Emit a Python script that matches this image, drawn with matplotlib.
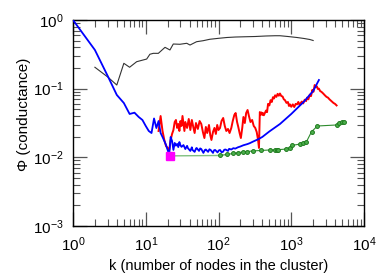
import matplotlib
matplotlib.use("Agg")
import matplotlib.pyplot as plt
from matplotlib.ticker import LogLocator, NullFormatter

plt.rcParams['font.family'] = ['Liberation Sans', 'DejaVu Sans']

# ---- data ----
black_k = [2, 3, 4, 5, 6, 7.5, 10.3, 11.4, 12.7, 14.9, 18.4, 21.5, 23.9, 29.5, 36.6,
           40.6, 50, 61.6, 76, 100, 130, 170, 230, 320, 450, 600, 700, 900, 1200,
           1500, 1800, 2000]
black_phi = [0.205, 0.148, 0.113, 0.234, 0.205, 0.247, 0.270, 0.317, 0.327, 0.327,
             0.400, 0.366, 0.447, 0.443, 0.458, 0.432, 0.483, 0.4995, 0.524, 0.541,
             0.556, 0.565, 0.570, 0.575, 0.585, 0.590, 0.590, 0.575, 0.556, 0.538,
             0.520, 0.503]

red_k = [15, 16, 17, 18, 19, 20, 21, 22, 23, 24, 25, 26, 27, 28, 29, 30, 31, 32, 33,
         34, 35, 37, 39, 41, 43, 45, 47, 49, 52, 55, 58, 61, 64, 67, 70, 74, 77, 80,
         84, 88, 92, 96, 100, 105, 110, 116, 122, 128, 135, 142, 150, 157, 165, 172,
         180, 187, 195, 203, 212, 220, 230, 240, 251, 262, 275, 290, 305, 320, 335,
         350, 360, 370, 380, 390, 400, 410, 420, 435, 450, 465, 480, 500, 520, 540,
         560, 580, 600, 625, 650, 675, 700, 730, 760, 790, 820, 860, 900, 930, 960,
         1000, 1050, 1100, 1150, 1200, 1250, 1300, 1350, 1400, 1460, 1530, 1600, 1650,
         1720, 1800, 1870, 1950, 2020, 2100, 2170, 2250, 2320, 2400, 2500, 2600, 2750,
         2900, 3050, 3200, 3350, 3500, 3650, 3800, 4000, 4200]
red_phi = [0.0242, 0.0400, 0.0242, 0.0179, 0.0146, 0.0137, 0.0128, 0.0179, 0.0219,
           0.0250, 0.0327, 0.0350, 0.0268, 0.0306, 0.0242, 0.0338, 0.0286, 0.0400,
           0.0306, 0.0242, 0.0327, 0.0268, 0.0362, 0.0250, 0.0350, 0.0277, 0.0226,
           0.0316, 0.0259, 0.0338, 0.0306, 0.0234, 0.0191, 0.0277, 0.0226, 0.0296,
           0.0211, 0.0179, 0.0234, 0.0268, 0.0219, 0.0296, 0.0250, 0.0268, 0.0338,
           0.0374, 0.0286, 0.0242, 0.0259, 0.0226, 0.0268, 0.0338, 0.0414, 0.0442,
           0.0327, 0.0277, 0.0226, 0.0191, 0.0268, 0.0387, 0.0316, 0.0442, 0.0489,
           0.0400, 0.0327, 0.0350, 0.0286, 0.0268, 0.0234, 0.0179, 0.0137,
           0.0457, 0.0420, 0.0450, 0.0415, 0.0440, 0.0410, 0.0445, 0.0480, 0.0455,
           0.0600, 0.0570, 0.0680, 0.0640, 0.0750, 0.0720, 0.0800, 0.0760, 0.0840,
           0.0790, 0.0850, 0.0780, 0.0770, 0.0700, 0.0680, 0.0620, 0.0640, 0.0560,
           0.0590, 0.0545, 0.0590, 0.0540, 0.0600, 0.0590, 0.0640, 0.0580, 0.0620,
           0.0650, 0.0610, 0.0690, 0.0660, 0.0740, 0.0700, 0.0820, 0.0780, 0.0960,
           0.0900, 0.1130, 0.1060, 0.1080, 0.0990, 0.1000, 0.0920, 0.0900, 0.0850,
           0.0800, 0.0760, 0.0740, 0.0700, 0.0670, 0.0640, 0.0620, 0.0600, 0.0570]

blue_k = [1, 2, 3, 4, 5, 6, 7, 8, 9, 10, 11, 12, 13, 14, 15, 16, 17, 18, 19, 20, 21,
          22, 23, 24, 25, 26, 27, 28, 29, 30, 31, 33, 35, 37, 38, 41, 43, 44, 47, 49,
          50, 54, 56, 58, 62, 65, 67, 72, 75, 78, 84, 87, 90, 97, 101, 105, 110, 115,
          120, 125, 135, 140, 150, 160, 170, 185, 200, 220, 250, 270, 300, 350, 400,
          500, 700, 1000, 1500, 2000, 2400]
blue_phi = [1.0, 0.366, 0.153, 0.081, 0.0618, 0.0428, 0.0447, 0.0387, 0.035, 0.0286,
            0.0242, 0.0226, 0.0368, 0.0267, 0.0338, 0.0226, 0.0198, 0.0173, 0.0151,
            0.0128, 0.0108, 0.0198, 0.0173, 0.0128, 0.0162, 0.0148, 0.0157, 0.0141,
            0.0167, 0.0150, 0.0142, 0.0151, 0.0132, 0.0147, 0.0136, 0.0124, 0.0140,
            0.0128, 0.0120, 0.0134, 0.0137, 0.0124, 0.0135, 0.0132, 0.0116, 0.0128,
            0.0130, 0.0120, 0.0131, 0.0128, 0.0116, 0.0127, 0.0128, 0.0118, 0.0126,
            0.0128, 0.0119, 0.0120, 0.0129, 0.0130, 0.0124, 0.0133, 0.0130, 0.0136,
            0.0134, 0.0140, 0.01439, 0.0150, 0.0156, 0.0161, 0.0170, 0.0183, 0.0198,
            0.0238, 0.0306, 0.0428, 0.065, 0.0925, 0.1337]

green_k = [21.3, 105, 130, 160, 187, 218, 250, 300, 380, 510, 600, 630, 660, 860, 950,
           1010, 1320, 1450, 1620, 1900, 2290, 4200, 4580, 4920, 5300]
green_phi = [0.0105, 0.01064, 0.0110, 0.01138, 0.01168, 0.0120, 0.01216, 0.0124,
             0.01258, 0.0128, 0.0128, 0.0128, 0.01294, 0.0132, 0.01382, 0.01488,
             0.0156, 0.0160, 0.0169, 0.0236, 0.0286, 0.0296, 0.0313, 0.0327, 0.0330]

best_k = [21.3]
best_phi = [0.0105]

xticks = [1, 10, 100, 1000, 10000]
yticks = [0.001, 0.01, 0.1, 1]

# ---- figure ----
fig = plt.figure(figsize=(3.92, 2.75), dpi=100)
ax = fig.add_axes([73/392, 1-226/275, (364-73)/392, (226-20)/275])

ax.plot(black_k, black_phi, color='#333333', lw=0.8, zorder=2)
ax.plot(red_k, red_phi, color='#ff0000', lw=1.4, zorder=3)
ax.plot(blue_k, blue_phi, color='#0000ff', lw=1.3, zorder=4)
ax.plot(green_k[:2], green_phi[:2], color='#80c080', lw=1.0, zorder=5)
ax.plot(green_k[1:], green_phi[1:], color='#2e8b2e', lw=0.8, marker='o', ms=2.8,
        mfc='#4caf4c', mec='#1e7a1e', mew=0.7, zorder=5)
ax.plot(best_k, best_phi, 's', color='#ff00ff', ms=5.5, zorder=6)

ax.set_xscale('log')
ax.set_yscale('log')
ax.set_xlim(1, 10000)
ax.set_ylim(0.001, 1)
ax.set_xticks(xticks)
ax.set_yticks(yticks)
ax.xaxis.set_minor_locator(LogLocator(base=10, subs=range(2, 10), numticks=20))
ax.yaxis.set_minor_locator(LogLocator(base=10, subs=range(2, 10), numticks=20))
ax.xaxis.set_minor_formatter(NullFormatter())
ax.yaxis.set_minor_formatter(NullFormatter())

ax.tick_params(which='both', direction='in', top=True, right=True, color='#555555')
ax.tick_params(which='major', length=10, width=0.9, pad=7, labelsize=11)
ax.tick_params(which='minor', length=5, width=0.8)
for s in ax.spines.values():
    s.set_linewidth(1.0)

ax.set_xlabel('k (number of nodes in the cluster)', fontsize=10.5)
ax.xaxis.set_label_coords(0.5, -0.158)
ax.xaxis.label.set_va('top')
ax.set_ylabel('Φ (conductance)', fontsize=11,
              family=['Liberation Sans Narrow', 'Liberation Sans', 'DejaVu Sans'])
ax.yaxis.set_label_coords(-0.145, 0.54)

fig.savefig('out.png', dpi=100)
